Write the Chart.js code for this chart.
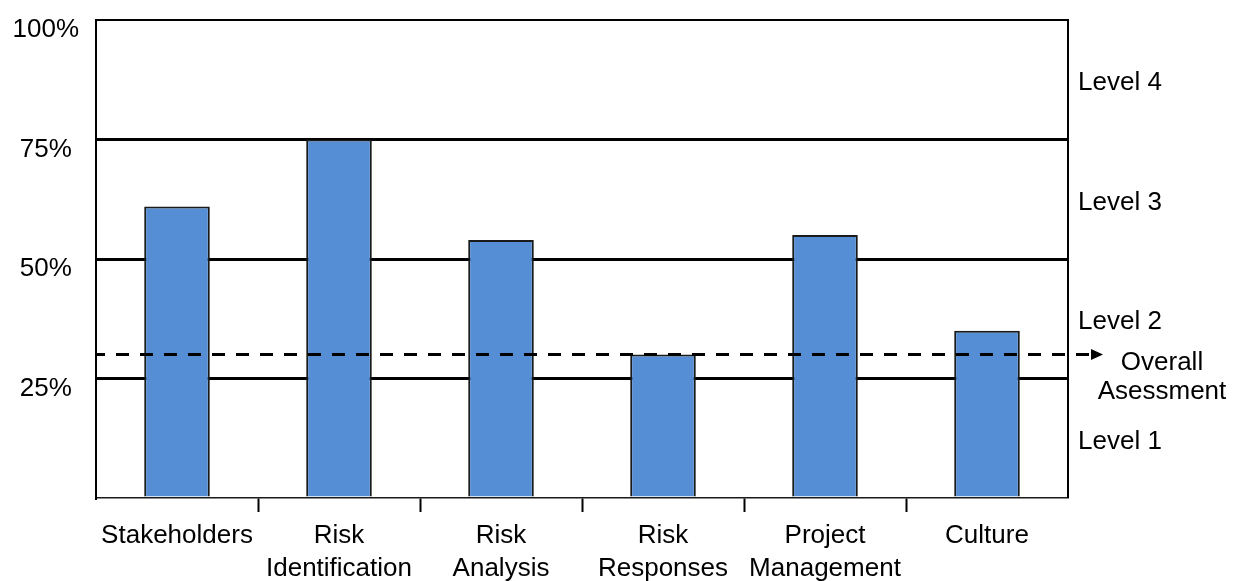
<!DOCTYPE html>
<html>
<head>
<meta charset="utf-8">
<script src="https://cdn.jsdelivr.net/npm/chart.js@4/dist/chart.umd.min.js"></script>
<style>
  html, body { margin: 0; padding: 0; background: #fff; }
  #wrap { width: 1236px; height: 581px; }
</style>
</head>
<body>
<div id="wrap"><canvas id="c" width="1236" height="581"></canvas></div>
<script>
// Maturity assessment per area (percent)
const categories = [
  ['Stakeholders'],
  ['Risk', 'Identification'],
  ['Risk', 'Analysis'],
  ['Risk', 'Responses'],
  ['Project', 'Management'],
  ['Culture']
];
const scores = [61, 75, 54, 30, 55, 35];
const overallAssessment = [30];
const yTickValues = [25, 50, 75, 100];
const levelBounds = [0, 25, 50, 75, 100];
const levelLabels = ['Level 1', 'Level 2', 'Level 3', 'Level 4'];
const overallLabel = ['Overall', 'Asessment'];

const FONT = '"Liberation Sans", Arial, sans-serif';

// Frame edge, overall dashed arrow and the level / overall captions
const annotations = {
  id: 'annotations',
  afterDatasetsDraw(chart) {
    const { ctx, chartArea: a, scales: { y } } = chart;
    ctx.save();
    ctx.strokeStyle = '#000';
    ctx.fillStyle = '#000';

    ctx.lineWidth = 2;
    ctx.beginPath();
    ctx.moveTo(a.right, a.top - 1);
    ctx.lineTo(a.right, a.bottom);
    ctx.stroke();

    const yy = y.getPixelForValue(overallAssessment[0]);
    ctx.lineWidth = 3;
    ctx.setLineDash([13, 11]);
    ctx.lineDashOffset = 4;
    ctx.beginPath();
    ctx.moveTo(a.left, yy);
    ctx.lineTo(a.right + 21, yy);
    ctx.stroke();
    ctx.setLineDash([]);

    ctx.beginPath();
    ctx.moveTo(a.right + 23, yy - 5.5);
    ctx.lineTo(a.right + 35, yy);
    ctx.lineTo(a.right + 23, yy + 5.5);
    ctx.closePath();
    ctx.fill();

    ctx.font = '26px ' + FONT;
    ctx.textBaseline = 'middle';
    ctx.textAlign = 'left';
    levelLabels.forEach((t, i) => {
      const mid = (levelBounds[i] + levelBounds[i + 1]) / 2;
      ctx.fillText(t, a.right + 10, y.getPixelForValue(mid) + 3.5);
    });

    ctx.textAlign = 'center';
    overallLabel.forEach((t, i) => {
      ctx.fillText(t, a.right + 94, yy + 8.5 + i * 29);
    });
    ctx.restore();
  }
};

const innerTick = (c) =>
  (c.index === undefined || c.index === 0 || c.index >= categories.length) ? 'rgba(0,0,0,0)' : '#000';

new Chart(document.getElementById('c'), {
  type: 'bar',
  data: {
    labels: categories,
    datasets: [{
      data: scores,
      backgroundColor: '#558ED5',
      borderColor: '#1a1a1a',
      borderWidth: 2,
      categoryPercentage: 1,
      barPercentage: 0.405
    }]
  },
  options: {
    responsive: false,
    devicePixelRatio: 1,
    animation: false,
    layout: { padding: { top: 20, right: 168, left: 0, bottom: 0 } },
    plugins: {
      legend: { display: false },
      tooltip: { enabled: false }
    },
    scales: {
      x: {
        afterFit(scale) {
          scale.height = 83;
          scale.paddingLeft = 0;
          scale.paddingRight = 0;
        },
        border: { display: true, color: '#1a1a1a', width: 1.5 },
        grid: {
          offset: true,
          drawOnChartArea: false,
          drawTicks: true,
          tickLength: 14,
          tickWidth: 2,
          tickColor: innerTick
        },
        ticks: {
          color: '#000',
          autoSkip: false,
          maxRotation: 0,
          padding: 7,
          font: { family: FONT, size: 26, lineHeight: 1.27 }
        }
      },
      y: {
        min: 0,
        max: 100,
        afterFit(scale) {
          scale.width = 96;
          scale.paddingTop = 0;
          scale.paddingBottom = 0;
        },
        afterBuildTicks(scale) {
          scale.ticks = [0, ...yTickValues].map(v => ({ value: v }));
        },
        border: { display: true, color: '#000', width: 2 },
        grid: {
          drawTicks: false,
          color: (c) => c.tick && c.tick.value === 0 ? 'rgba(0,0,0,0)' : '#000',
          lineWidth: (c) => c.tick && c.tick.value === 100 ? 2 : 3
        },
        ticks: {
          color: '#000',
          padding: 17,
          crossAlign: 'center',
          labelOffset: 10,
          font: { family: FONT, size: 26 },
          callback: (v) => yTickValues.includes(v) ? v + '%' : ''
        }
      }
    }
  },
  plugins: [annotations]
});
</script>
</body>
</html>
